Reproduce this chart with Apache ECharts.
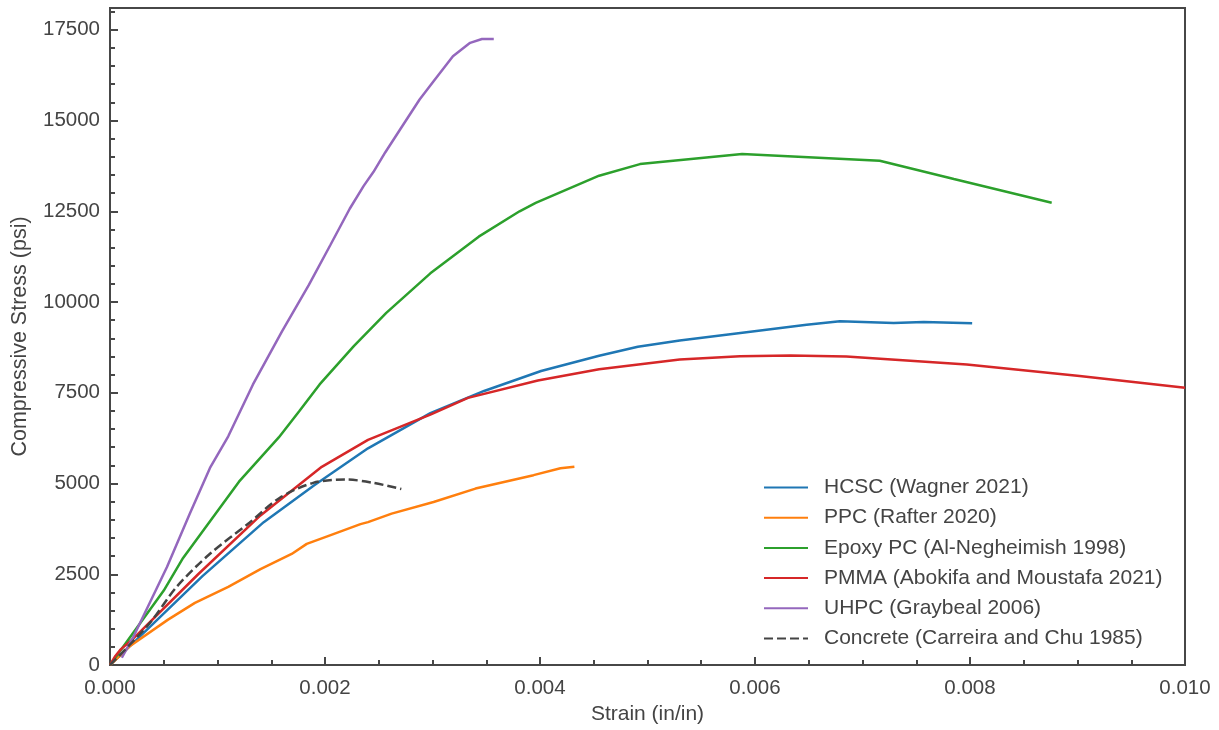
<!DOCTYPE html>
<html>
<head>
<meta charset="utf-8">
<script src="https://cdn.jsdelivr.net/npm/echarts@6/dist/echarts.min.js"></script>
<style>
html,body{margin:0;padding:0;background:#fff;}
#chart{width:1219px;height:730px;}
</style>
</head>
<body>
<div id="chart"></div>
<script>
// Strain (in/in), Stress (psi)
const hcsc = [[0,0],[0.0002,560],[0.00086,2450],[0.00143,3935],[0.0019,4950],[0.0024,5970],[0.00298,6940],[0.00348,7550],[0.00401,8100],[0.00455,8520],[0.00491,8770],[0.0053,8940],[0.00592,9170],[0.00648,9375],[0.00679,9468],[0.00729,9420],[0.00757,9450],[0.00802,9413]];
const ppc = [[0,0],[0.0001,280],[0.00018,510],[0.00054,1250],[0.00079,1710],[0.0011,2150],[0.0014,2640],[0.00169,3060],[0.00183,3336],[0.00204,3565],[0.00233,3880],[0.0024,3935],[0.00262,4170],[0.00301,4490],[0.0034,4860],[0.00394,5230],[0.00419,5420],[0.00432,5460]];
const epoxy = [[0,0],[0.0005,2050],[0.00068,2950],[0.0012,5050],[0.00157,6270],[0.00176,6990],[0.00195,7730],[0.00227,8790],[0.00257,9700],[0.00298,10790],[0.00343,11800],[0.00381,12500],[0.00396,12730],[0.00455,13480],[0.00493,13800],[0.00588,14080],[0.00716,13890],[0.00785,13390],[0.00876,12735]];
const pmma = [[0,0],[0.00005,250],[0.0001,430],[0.0002,680],[0.00082,2500],[0.0014,4120],[0.00197,5460],[0.0024,6200],[0.00298,6900],[0.00333,7360],[0.00398,7840],[0.00455,8150],[0.0053,8416],[0.00586,8509],[0.00633,8526],[0.00685,8498],[0.00797,8279],[0.00902,7961],[0.0100,7641]];
const uhpc = [[0.00011,200],[0.00022,790],[0.00053,2700],[0.00074,4150],[0.00093,5430],[0.0011,6300],[0.00133,7730],[0.0016,9190],[0.00185,10470],[0.00205,11570],[0.00223,12570],[0.00236,13200],[0.00245,13580],[0.00256,14120],[0.0027,14760],[0.00288,15580],[0.00301,16080],[0.00319,16770],[0.00335,17140],[0.00346,17245],[0.00357,17245]];
const concrete = [[0,0],[0.00037,1155],[0.00062,2155],[0.00093,3064],[0.0013,3927],[0.00158,4609],[0.00189,5018],[0.0022,5109],[0.00245,5018],[0.00271,4850]];

const seriesNames = ['HCSC (Wagner 2021)','PPC (Rafter 2020)','Epoxy PC (Al-Negheimish 1998)','PMMA (Abokifa and Moustafa 2021)','UHPC (Graybeal 2006)','Concrete (Carreira and Chu 1985)'];
const seriesData = [hcsc, ppc, epoxy, pmma, uhpc, concrete];
const colors = ['#1f77b4','#ff7f0e','#2ca02c','#d62728','#9467bd','#444444'];
const xTicks = [0, 0.002, 0.004, 0.006, 0.008, 0.010];
const yTicks = [0, 2500, 5000, 7500, 10000, 12500, 15000, 17500];

const FONT = '"Liberation Sans", Arial, Helvetica, sans-serif';
const TXT = '#444444';
const AX = '#474747';

const chart = echarts.init(document.getElementById('chart'), null, {renderer:'canvas'});
const option = {
  animation: false,
  backgroundColor: '#ffffff',
  textStyle: {fontFamily: FONT},
  grid: {left:110, right:34, top:8, bottom:61, show:true, borderColor:AX, borderWidth:2, containLabel:false},
  legend: {
    show: true, orient:'vertical', left: 763, top: 477, padding: 0,
    itemWidth: 44, itemHeight: 20, itemGap: 9.2,
    itemStyle: {opacity: 0},
    textStyle: {fontFamily: FONT, fontSize: 21, color: TXT, padding:[0,0,0,11]},
    data: seriesNames
  },
  xAxis: {
    type:'value', min:0, max:0.010, interval:0.002,
    name:'Strain (in/in)', nameLocation:'middle', nameGap:39,
    nameTextStyle:{fontFamily:FONT, fontSize:21, color:TXT},
    axisLine:{show:true, onZero:false, lineStyle:{color:AX, width:2}},
    axisTick:{show:true, inside:true, length:8, lineStyle:{color:AX, width:2}},
    minorTick:{show:true, splitNumber:4, length:5, lineStyle:{color:AX, width:2}},
    axisLabel:{fontFamily:FONT, fontSize:20.5, color:TXT, margin:13,
      formatter: v => xTicks.some(t => Math.abs(t - v) < 1e-9) ? v.toFixed(3) : ''},
    splitLine:{show:false}, minorSplitLine:{show:false}
  },
  yAxis: [{
    type:'value', min:0, max:18100, interval:2500,
    name:'Compressive Stress (psi)', nameLocation:'middle', nameGap:79,
    nameTextStyle:{fontFamily:FONT, fontSize:21.5, color:TXT},
    axisLine:{show:true, onZero:false, lineStyle:{color:AX, width:2}},
    axisTick:{show:true, inside:true, length:8, lineStyle:{color:AX, width:2}},
    axisLabel:{fontFamily:FONT, fontSize:20.5, color:TXT, margin:10, showMaxLabel:false,
      formatter: v => yTicks.indexOf(v) >= 0 ? String(v) : ''},
    splitLine:{show:false}
  },{
    type:'value', min:0, max:18100, interval:500, position:'left', offset:0,
    axisLine:{show:false},
    axisTick:{show:true, inside:true, length:5, lineStyle:{color:AX, width:2}},
    axisLabel:{show:false},
    splitLine:{show:false}
  }],
  series: seriesData.map((d,i) => ({
    name: seriesNames[i], type:'line', data:d, xAxisIndex:0, yAxisIndex:0,
    symbol:'none', smooth: i === 5 ? 0.3 : false, clip:true,
    color: colors[i],
    lineStyle:{color:colors[i], width:2.5, type: i === 5 ? [9,4] : 'solid'},
    itemStyle:{color:colors[i]},
    z: 3
  }))
};
chart.setOption(option);
</script>
</body>
</html>
